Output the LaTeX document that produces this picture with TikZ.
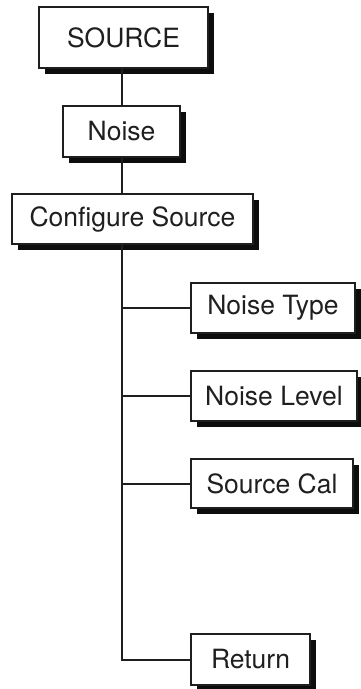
\documentclass[tikz,border=0pt]{standalone}
\usepackage{fontspec}
\setmainfont{TeX Gyre Heros}
\usetikzlibrary{shadows}
\definecolor{MenuInk}{gray}{0.12}
\definecolor{MenuShadow}{gray}{0.05}
\tikzset{
    menu/tree/.style={
        x=1pt, y=-1pt,
        font=\fontsize{26.5}{31}\selectfont,
        text=MenuInk,
        line cap=rect,
        line join=miter
    },
    menu/box/.style={
        draw=MenuInk, fill=white, line width=1.6pt,
        inner sep=0pt, outer sep=0pt,
        drop shadow={shadow xshift=6pt, shadow yshift=-6pt,
            fill=MenuShadow, opacity=1}
    },
    menu/link/.style={draw=MenuInk, line width=2pt}
}

\begin{document}
\begin{tikzpicture}[menu/tree]
    \useasboundingbox (0,0) rectangle (360,689);
    \node[menu/box, minimum width=169pt, minimum height=61pt]
        (src) at (123.5,37.5) {SOURCE};
    \node[menu/box, minimum width=117pt, minimum height=51pt]
        (noise) at (121.5,131.5) {Noise};
    \node[menu/box, minimum width=241pt, minimum height=50pt]
        (cfg) at (132.5,219) {Configure Source};
    % submenu of Configure Source
    \node[menu/box, minimum width=164pt, minimum height=50pt]
        (ntype) at (273,308) {Noise Type};
    \node[menu/box, minimum width=166pt, minimum height=50pt]
        (nlevel) at (274,396) {Noise Level};
    \node[menu/box, minimum width=162pt, minimum height=49pt]
        (scal) at (272,483.5) {Source Cal};
    \node[menu/box, minimum width=119pt, minimum height=51pt]
        (ret) at (250.5,659.5) {Return};
    \begin{scope}[on background layer/.try]
        \draw[menu/link] (noise.north |- src.south) -- (noise.north);
        \draw[menu/link] (noise.south) -- (noise.south |- cfg.north);
        \draw[menu/link] (noise.south |- cfg.south) |- (ret.west);
        \draw[menu/link] (ntype.west -| noise.south) -- (ntype.west);
        \draw[menu/link] (nlevel.west -| noise.south) -- (nlevel.west);
        \draw[menu/link] (scal.west -| noise.south) -- (scal.west);
    \end{scope}
\end{tikzpicture}
\end{document}
